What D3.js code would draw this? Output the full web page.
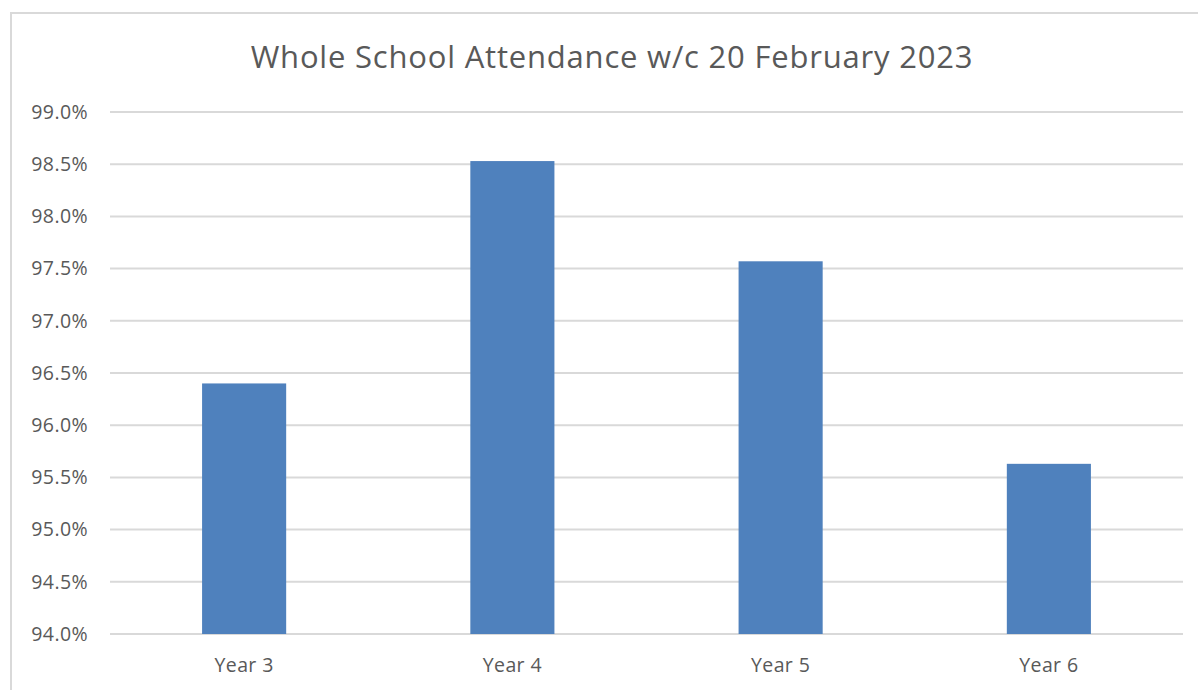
<!DOCTYPE html>
<html>
<head>
<meta charset="utf-8">
<script src="https://cdn.jsdelivr.net/npm/d3@7"></script>
<style>
  body { margin: 0; background: #fff; }
  svg { display: block; }
  text { font-family: "Open Sans", "Noto Sans", sans-serif; fill: #595959; }
</style>
</head>
<body>
<svg width="1198" height="690"></svg>
<script>
// data
const years = ["Year 3", "Year 4", "Year 5", "Year 6"];
const attendance = [96.40, 98.53, 97.57, 95.63];
const yTicks = [94.0, 94.5, 95.0, 95.5, 96.0, 96.5, 97.0, 97.5, 98.0, 98.5, 99.0];
const title = "Whole School Attendance w/c 20 February 2023";

const svg = d3.select("svg");
const margin = { left: 110, right: 15, top: 112, bottom: 56 };
const width = 1198, height = 690;

// chart frame (left + top edge visible)
svg.append("path")
  .attr("d", "M11,690 V13 H1198")
  .attr("fill", "none")
  .attr("stroke", "#d9d9d9")
  .attr("stroke-width", 2);

const x = d3.scaleBand()
  .domain(years)
  .range([margin.left, width - margin.right])
  .paddingInner(0.6865)
  .paddingOuter(0.34325);

const y = d3.scaleLinear()
  .domain([94, 99])
  .range([height - margin.bottom, margin.top]);

// gridlines
svg.append("g")
  .selectAll("line")
  .data(yTicks)
  .enter().append("line")
  .attr("x1", margin.left)
  .attr("x2", width - margin.right)
  .attr("y1", d => y(d))
  .attr("y2", d => y(d))
  .attr("stroke", "#d9d9d9")
  .attr("stroke-width", 2);

// y labels
svg.append("g")
  .selectAll("text")
  .data(yTicks)
  .enter().append("text")
  .attr("x", 88)
  .attr("y", d => y(d))
  .attr("dy", "0.35em")
  .attr("text-anchor", "end")
  .style("font-size", "19.5px")
  .style("letter-spacing", "0.4px")
  .text(d => d.toFixed(1) + "%");

// bars
svg.append("g")
  .selectAll("rect")
  .data(attendance)
  .enter().append("rect")
  .attr("x", (d, i) => x(years[i]))
  .attr("width", x.bandwidth())
  .attr("y", d => y(d))
  .attr("height", d => y(94) - y(d))
  .attr("fill", "#4f81bd");

// x labels
svg.append("g")
  .selectAll("text")
  .data(years)
  .enter().append("text")
  .attr("x", d => x(d) + x.bandwidth() / 2)
  .attr("y", 672)
  .attr("text-anchor", "middle")
  .style("font-size", "19.5px")
  .style("letter-spacing", "0.4px")
  .text(d => d);

// title
svg.append("text")
  .attr("x", 612)
  .attr("y", 68)
  .attr("text-anchor", "middle")
  .style("font-size", "31px")
  .style("letter-spacing", "0.8px")
  .text(title);
</script>
</body>
</html>
